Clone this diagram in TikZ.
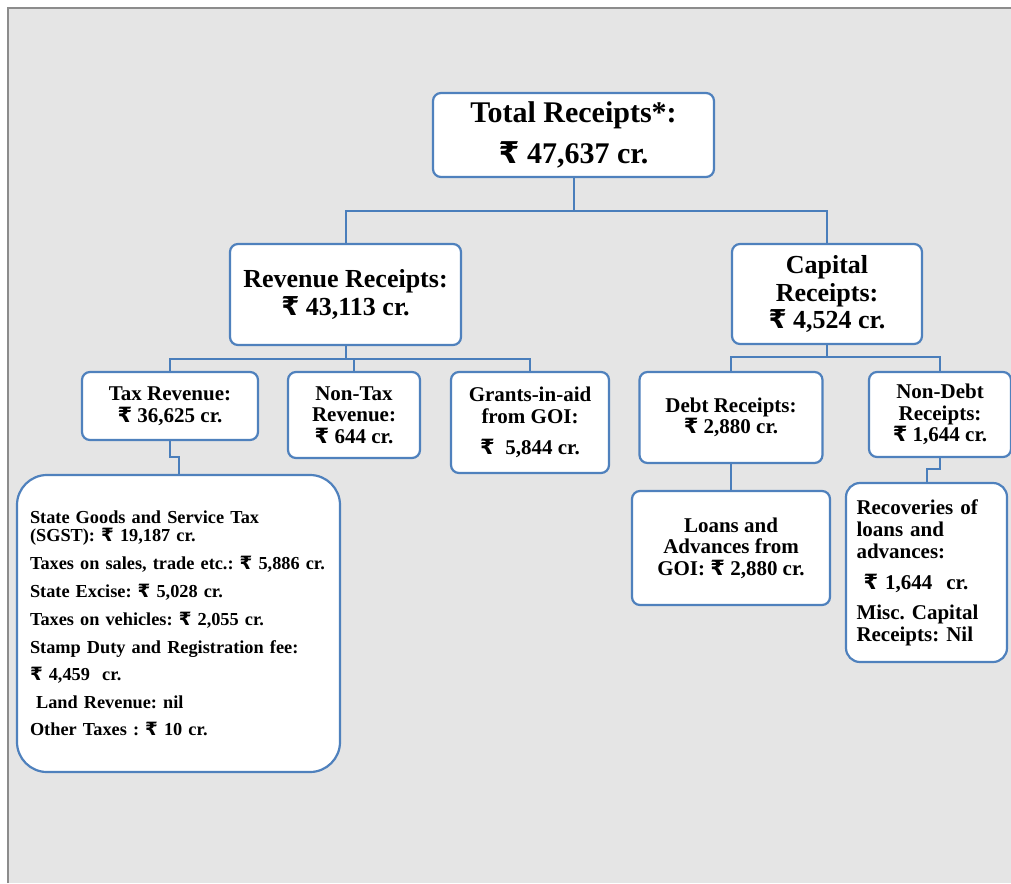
\documentclass[tikz,border=0pt]{standalone}
\usepackage{fontspec}
\setmainfont{Liberation Serif}
\newfontfamily\rupeefont{DejaVu Sans}
\newcommand\rs{{\rupeefont\bfseries ₹}}
\usetikzlibrary{positioning, calc}
\definecolor{boxblue}{RGB}{79, 129, 189}
\definecolor{linkblue}{RGB}{74, 126, 187}
\definecolor{pagegray}{RGB}{229, 229, 229}
\definecolor{edgegray}{RGB}{140, 140, 140}

\begin{document}
\frenchspacing
\begin{tikzpicture}[
            x=1pt, y=-1pt,
            rbox/.style={draw=boxblue, line width=2.2pt, fill=white, rounded corners=8pt, align=center, inner sep=0pt, font=\bfseries},
            bigbox/.style={rbox, font=\bfseries\fontsize{30}{41}\selectfont},
            midbox/.style={rbox, font=\bfseries\fontsize{26}{27.5}\selectfont},
            smallbox/.style={rbox, font=\bfseries\fontsize{21}{21.5}\selectfont},
            listbox/.style={rbox, align=left, font=\bfseries\fontsize{18.3}{18}\selectfont},
            conn/.style={draw=linkblue, line width=2pt}
        ]
            % page
            \useasboundingbox (0,0) rectangle (1011,883);
            \fill[pagegray] (8,8) rectangle (1011,883);
            \draw[edgegray, line width=1.2pt] (8,883) -- (8,8) -- (1011,8);

            % Nodes
            \node[bigbox, minimum width=281, minimum height=84, text depth=4pt] (total) at (573.5,135) {Total Receipts*:\\\rs{} 47,637 cr.};

            \node[midbox, minimum width=231, minimum height=101] (rev) at (345.5,294.5) {Revenue Receipts:\\\rs{} 43,113 cr.};
            \node[midbox, minimum width=190, minimum height=100] (cap) at (827,294) {Capital\\Receipts:\\\rs{} 4,524 cr.};

            \node[smallbox, minimum width=176, minimum height=68] (tax) at (170,406) {Tax Revenue:\\\rs{} 36,625 cr.};
            \node[smallbox, minimum width=132, minimum height=86] (nontax) at (354,415) {Non-Tax\\Revenue:\\\rs{} 644 cr.};
            \node[smallbox, minimum width=158, minimum height=101] (grants) at (530,422.5) {Grants-in-aid\\from GOI:\\[10pt]\rs\ \ 5,844 cr.};

            \node[smallbox, minimum width=183, minimum height=91] (debt) at (731,417.5) {Debt Receipts:\\\rs{} 2,880 cr.};
            \node[smallbox, minimum width=142, minimum height=85] (nondebt) at (940,414.5) {Non-Debt\\Receipts:\\\rs{} 1,644 cr.};

            \node[listbox, rounded corners=30pt, minimum width=323, minimum height=297, text width=297] (detail) at (178.5,623.5)
                {State Goods and Service Tax\\(SGST): \rs{} 19,187 cr.\\[10pt]
                 Taxes on sales, trade etc.: \rs{} 5,886 cr.\\[10pt]
                 State Excise: \rs{} 5,028 cr.\\[10pt]
                 Taxes on vehicles: \rs{} 2,055 cr.\\[10pt]
                 Stamp Duty and Registration fee:\\[9pt]
                 \rs{} 4,459\ \ cr.\\[10pt]
                 \ Land Revenue: nil\\[9pt]
                 Other Taxes : \rs{} 10 cr.};

            \node[smallbox, minimum width=198, minimum height=114] (loans) at (731,548) {Loans and\\Advances from\\GOI: \rs{} 2,880 cr.};
            \node[rbox, align=left, rounded corners=14pt, minimum width=161, minimum height=179, text width=140, font=\bfseries\fontsize{21}{22}\selectfont] (recov) at (926.5,572.5)
                {Recoveries of\\loans and\\advances:\\[9pt]
                 \ \rs{} 1,644\ \ cr.\\[8pt]
                 Misc. Capital\\Receipts: Nil};

            % Connectors
            \draw[conn] (total.south) -- ++(0,33) -| (rev.north);
            \draw[conn] (total.south) -- ++(0,33) -| (cap.north);

            \draw[conn] (rev.south) -- ++(0,13) -| (tax.north);
            \draw[conn] (rev.south) -- ++(0,13) -| (nontax.north);
            \draw[conn] (rev.south) -- ++(0,13) -| (grants.north);

            \draw[conn] (cap.south) -- ++(0,12) -| (debt.north);
            \draw[conn] (cap.south) -- ++(0,12) -| (nondebt.north);

            \draw[conn] (tax.south) |- ([yshift=17pt]detail.north) -- (detail.north);
            \draw[conn] (debt.south) -- (loans.north);
            \draw[conn] (nondebt.south) |- ([yshift=13pt]recov.north) -- (recov.north);
        \end{tikzpicture}
\end{document}
